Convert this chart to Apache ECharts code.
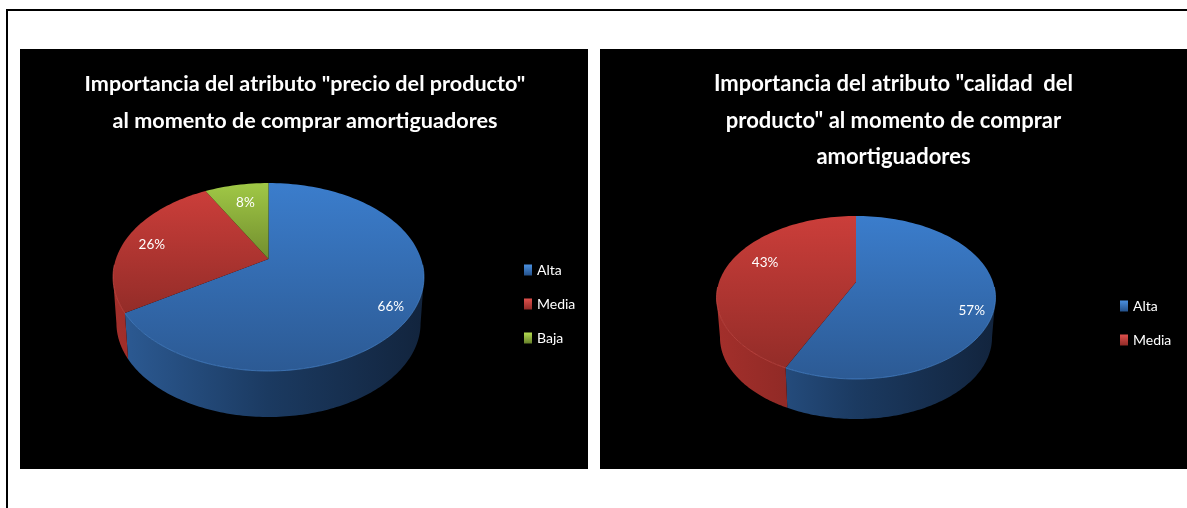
<!DOCTYPE html>
<html>
<head>
<meta charset="utf-8">
<title>Importancia de atributos</title>
<script src="https://cdn.jsdelivr.net/npm/echarts@6/dist/echarts.min.js"></script>
<style>
  html, body { margin: 0; padding: 0; background: #fff; }
  #chart { width: 1187px; height: 508px; }
</style>
</head>
<body>
<div id="chart"></div>
<script>
// Survey shares, in percent, clockwise from twelve o'clock
const precioCategories = ['Alta', 'Media', 'Baja'];
const precioValues = [66, 26, 8];
const calidadCategories = ['Alta', 'Media'];
const calidadValues = [57, 43];

const precioTitle = 'Importancia del atributo "precio del producto"\nal momento de comprar amortiguadores';
const calidadTitle = 'Importancia del atributo "calidad  del\nproducto" al momento de comprar\namortiguadores';

const FONT = 'Lato, "Open Sans", sans-serif';

// Shading per category: top face, legend swatch, side wall and front rim
const palette = {
  Alta:  { top: ['#3b7dcc', '#2c5a94'], swatch: ['#4a90e0', '#24518a'], wall: ['#2d5c96', '#1b3a61', '#12243d'], rim: '#4f8fdc' },
  Media: { top: ['#cb3e3a', '#932c28'], swatch: ['#e0504c', '#8f2b27'], wall: ['#a32f2b', '#7f2521', '#6f201c'], rim: '#d8524d' },
  Baja:  { top: ['#a0c846', '#728e2e'], swatch: ['#b4dc50', '#66802a'], wall: ['#7f9e34', '#64802a', '#506622'], rim: '#b4dc50' }
};

// Perspective disc: rx = half width, top / apex / front = screen y of the
// rear rim, the disc centre and the front rim
const precioDisc = { cx: 268.5, rx: 155.5, top: 183, apex: 259, front: 371, depth: 46, shrink: 0.978 };
const calidadDisc = { cx: 856, rx: 139.5, top: 216, apex: 282, front: 379, depth: 40, shrink: 0.975 };

// Placement of the percentage text: radial fraction and a pixel nudge
const precioLabels = [[0.85, -1, 7], [0.82, 0, 3], [0.72, 1, -1]];
const calidadLabels = [[0.85, -2, 14], [0.70, 0, -8]];

// Homography that takes the unit disc to the tilted pie on screen
function projector(d) {
  const c = (2 * d.apex - d.top - d.front) / (d.front - d.top);
  const a = d.front * (1 + c) - d.apex;
  const k = d.rx * Math.sqrt(1 - c * c);
  return function (percent, r) {
    const ang = percent / 100 * Math.PI * 2;
    const u = Math.sin(ang) * r, v = -Math.cos(ang) * r;
    const w = 1 + c * v;
    return [d.cx + k * u / w, (a * v + d.apex) / w];
  };
}

// Positions on the rim (in percent) where it is widest: the wall is visible between them
function frontRange(project) {
  let right = 0, left = 0, maxX = -Infinity, minX = Infinity;
  for (let pct = 0; pct <= 100; pct += 0.1) {
    const x = project(pct, 1)[0];
    if (x > maxX) { maxX = x; right = pct; }
    if (x < minX) { minX = x; left = pct; }
  }
  return [right, left];
}

function vertical(stops) {
  return { type: 'linear', x: 0, y: 0, x2: 0, y2: 1,
    colorStops: [{ offset: 0, color: stops[0] }, { offset: 1, color: stops[1] }] };
}
// Wall shading runs across the whole pie, so it is anchored in canvas pixels
function acrossDisc(stops, disc) {
  return { type: 'linear', global: true, x: disc.cx - disc.rx, y: 0, x2: disc.cx + disc.rx, y2: 0,
    colorStops: stops.map((color, i) => ({ offset: i / (stops.length - 1), color })) };
}

function pieSeries(categories, values, disc, labels) {
  const project = projector(disc);
  const front = frontRange(project);
  let cumulative = 0;
  return categories.map((name, idx) => {
    const start = cumulative;
    cumulative += values[idx];
    const colors = palette[name];
    return {
      type: 'custom',
      name: name,
      coordinateSystem: 'none',
      z: 2,
      silent: true,
      itemStyle: { color: vertical(colors.swatch) },
      data: [{ name: name, value: values[idx] }],
      renderItem: function (params, api) {
        const value = api.value(0);
        const rimTop = [], rimFront = [];
        const steps = Math.max(8, Math.ceil(value * 2));
        for (let i = 0; i <= steps; i++) {
          const pct = start + value * i / steps;
          rimTop.push(project(pct, 1));
          if (Math.cos(pct / 100 * Math.PI * 2) < -0.05) rimFront.push(project(pct, 1));
        }
        const children = [];
        const wallFrom = Math.max(start, front[0]);
        const wallTo = Math.min(start + value, front[1]);
        if (wallTo > wallFrom) {
          const upper = [], lower = [];
          for (let i = 0; i <= steps; i++) {
            const p = project(wallFrom + (wallTo - wallFrom) * i / steps, 1);
            upper.push(p);
            lower.push([disc.cx + (p[0] - disc.cx) * disc.shrink, p[1] + disc.depth]);
          }
          children.push({ type: 'polygon', z2: 1,
            shape: { points: upper.concat(lower.reverse()) },
            style: { fill: acrossDisc(colors.wall, disc) } });
        }
        children.push({ type: 'polygon', z2: 2,
          shape: { points: [project(0, 0)].concat(rimTop) },
          style: { fill: vertical(colors.top) } });
        if (rimFront.length > 1) {
          children.push({ type: 'polyline', z2: 3,
            shape: { points: rimFront },
            style: { fill: null, stroke: colors.rim, lineWidth: 1, opacity: 0.6 } });
        }
        const place = labels[idx];
        const anchor = project(start + value / 2, place[0]);
        children.push({ type: 'text', z2: 4,
          x: anchor[0] + place[1], y: anchor[1] + place[2],
          style: { text: value + '%', fill: '#ffffff', font: '13.5px ' + FONT, align: 'center', verticalAlign: 'middle' } });
        return { type: 'group', children: children };
      }
    };
  });
}

function titleBlock(text, x, size) {
  return {
    text: text, left: x, top: 66, padding: 0, textAlign: 'center', z: 6,
    textStyle: { color: '#ffffff', fontFamily: FONT, fontWeight: 'bold', fontSize: size, lineHeight: 36.5 }
  };
}

function legendBlock(categories, x, y) {
  return {
    data: categories, left: x, top: y, orient: 'vertical', z: 6, padding: 0,
    itemWidth: 8, itemHeight: 11, itemGap: 20, selectedMode: false, icon: 'rect',
    textStyle: { color: '#ffffff', fontFamily: FONT, fontSize: 14, padding: 0 }
  };
}

const chart = echarts.init(document.getElementById('chart'), null, { renderer: 'canvas' });
chart.setOption({
  animation: false,
  backgroundColor: '#ffffff',
  title: [titleBlock(precioTitle, 305, 21.6), titleBlock(calidadTitle, 893.5, 22)],
  legend: [legendBlock(precioCategories, 524, 263), legendBlock(calidadCategories, 1120, 299)],
  tooltip: { show: false },
  graphic: [
    { type: 'rect', z: 0, shape: { x: 20, y: 49, width: 568, height: 420 }, style: { fill: '#000' } },
    { type: 'rect', z: 0, shape: { x: 600, y: 49, width: 587, height: 420 }, style: { fill: '#000' } },
    { type: 'rect', z: 0, shape: { x: 6, y: 9, width: 1181, height: 2 }, style: { fill: '#000' } },
    { type: 'rect', z: 0, shape: { x: 6, y: 9, width: 2, height: 499 }, style: { fill: '#000' } }
  ],
  series: pieSeries(precioCategories, precioValues, precioDisc, precioLabels)
    .concat(pieSeries(calidadCategories, calidadValues, calidadDisc, calidadLabels))
});
</script>
</body>
</html>
